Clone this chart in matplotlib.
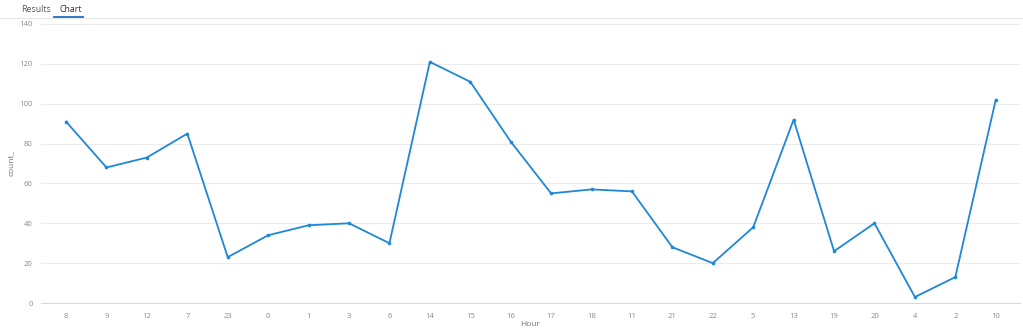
import matplotlib
matplotlib.use("Agg")
import matplotlib.pyplot as plt
from matplotlib.lines import Line2D

hours = ["8", "9", "12", "7", "23", "0", "1", "3", "6", "14", "15", "16",
         "17", "18", "11", "21", "22", "5", "13", "19", "20", "4", "2", "10"]
counts = [91, 68, 73, 85, 23, 34, 39, 40, 30, 121, 111, 81,
          55, 57, 56, 28, 20, 38, 92, 26, 40, 3, 13, 102]
yticks = [0, 20, 40, 60, 80, 100, 120, 140]

plt.rcParams['font.family'] = ['Open Sans', 'DejaVu Sans']

fig = plt.figure(figsize=(10.23, 3.33), dpi=100)
ax = fig.add_axes([41/1023, 1 - 303/333, (1020 - 41)/1023, (303 - 24)/333])

x = list(range(len(hours)))
ax.plot(x, counts, color="#1f87d8", linewidth=1.3, marker="o", markersize=1.6)

ax.set_xlim(-0.62, len(hours) - 1 + 0.6)
ax.set_ylim(0, 140)
ax.set_yticks(yticks)
ax.set_xticks(x)
ax.set_xticklabels(hours)
ax.grid(axis="y", color="#ececec", linewidth=0.8)
ax.set_axisbelow(True)
for s in ["top", "right", "left"]:
    ax.spines[s].set_visible(False)
ax.spines["bottom"].set_color("#d8d8e4")
ax.tick_params(axis="both", length=0, labelsize=5.5, labelcolor="#8a8a8a")
ax.tick_params(axis="x", pad=7)
ax.tick_params(axis="y", pad=6)
ax.set_xlabel("Hour", fontsize=6, color="#707070", labelpad=1)
ax.set_ylabel("count_", fontsize=6, color="#707070", labelpad=3)

# Tab header
fig.text(21/1023, 1 - 10/333, "Results", fontsize=6.3, color="#555555", va="center")
fig.text(59/1023, 1 - 10/333, "Chart", fontsize=6.3, color="#333333", va="center")
fig.add_artist(Line2D([0, 1], [1 - 18/333, 1 - 18/333], color="#e6e6e6", linewidth=0.8, transform=fig.transFigure))
fig.add_artist(Line2D([54/1023, 83/1023], [1 - 17/333, 1 - 17/333], color="#1f6fc0", linewidth=1.3, transform=fig.transFigure))

fig.savefig("out.png", dpi=100)
